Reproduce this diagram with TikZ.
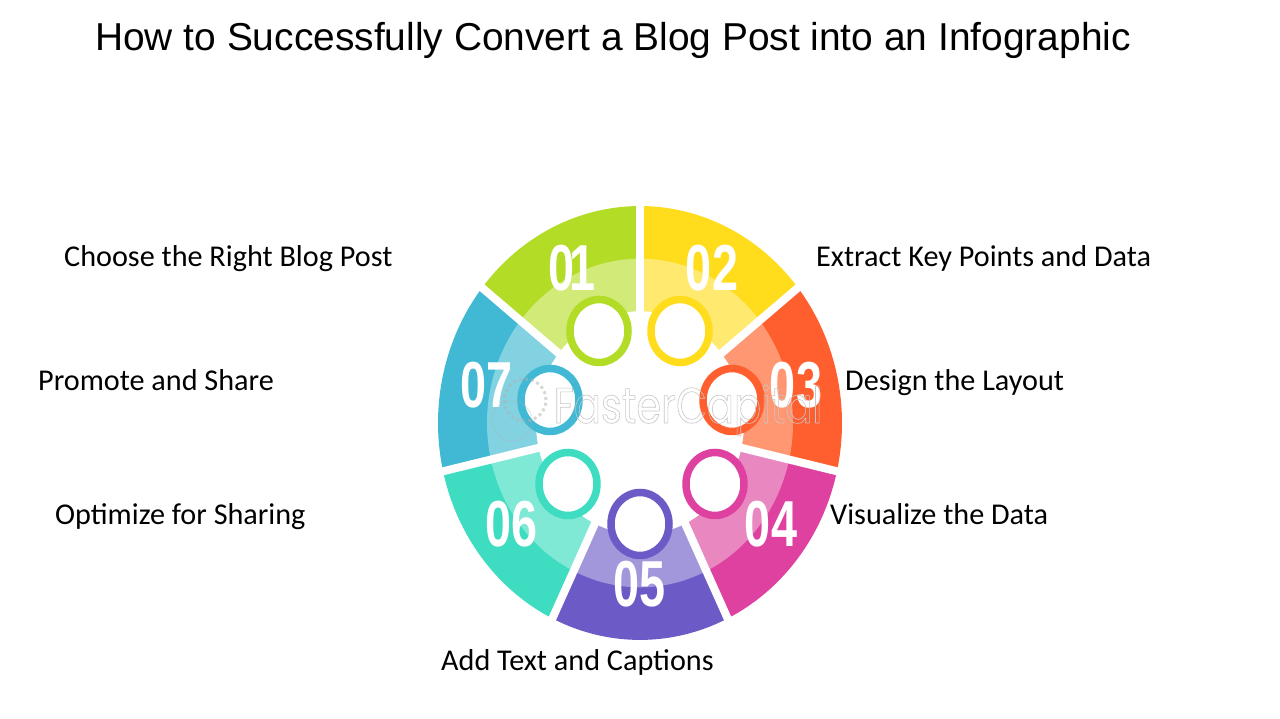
\documentclass[tikz,border=0pt]{standalone}
\usepackage{fontspec}
\setmainfont{Carlito}
\newfontfamily\titlefont{Liberation Sans}
\newfontfamily\numfont{Liberation Sans}[FakeStretch=0.72]
\newfontfamily\wmfont{Poppins}[FakeStretch=0.8]
\usetikzlibrary{shapes.geometric}
\definecolor{greendk}{HTML}{B3DC26}\definecolor{greenlt}{HTML}{D2EA78}
\definecolor{yellowdk}{HTML}{FFDD1D}\definecolor{yellowlt}{HTML}{FFE96E}
\definecolor{orangedk}{HTML}{FF5F2E}\definecolor{orangelt}{HTML}{FF9772}
\definecolor{pinkdk}{HTML}{DF41A0}\definecolor{pinklt}{HTML}{E887C0}
\definecolor{purpledk}{HTML}{6C5AC6}\definecolor{purplelt}{HTML}{A397DC}
\definecolor{tealdk}{HTML}{3EDCC0}\definecolor{teallt}{HTML}{80E9D6}
\definecolor{bluedk}{HTML}{41B8D4}\definecolor{bluelt}{HTML}{82D2E2}
\begin{document}
\begin{tikzpicture}[
  x=1pt, y=1pt,
  hdr/.style={font=\titlefont\fontsize{38.9}{38.9}\selectfont,text=black,anchor=base west,inner sep=0pt},
  lbl/.style={font=\fontsize{30.2}{30.2}\selectfont,text=black,anchor=base west,inner sep=0pt},
  num/.style={font=\numfont\bfseries\fontsize{65}{65}\selectfont,text=white,inner sep=0pt},
  ring/.style={ellipse,fill=white,line width=7.5pt,minimum width=58pt,minimum height=63pt,inner sep=0pt},
  wmark/.style={font=\wmfont\fontsize{50}{50}\selectfont,anchor=base,inner sep=0pt}]

\useasboundingbox (0,0) rectangle (1280,719);

\node[hdr] (title) at (95,668) {How to Successfully Convert a Blog Post into an Infographic};

% wheel
\begin{scope}[shift={(640,296)},yscale=1.074]
  \foreach \ang/\dk/\lt in {90/greendk/greenlt, 38.57/yellowdk/yellowlt, -12.86/orangedk/orangelt,
      -64.29/pinkdk/pinklt, -115.71/purpledk/purplelt, -167.14/tealdk/teallt, -218.57/bluedk/bluelt}{
    \fill[\dk] (0,0) -- (\ang:202) arc[start angle=\ang, delta angle=51.43, radius=202] -- cycle;
    \fill[\lt] (0,0) -- (\ang:153) arc[start angle=\ang, delta angle=51.43, radius=153] -- cycle;
  }
  \foreach \ang in {90,38.57,-12.86,-64.29,-115.71,-167.14,-218.57}
    \draw[white,line width=8pt] (0,0) -- (\ang:210);
  \fill[white] (0,0) circle (104);
\end{scope}

\node[ring,draw=greendk] (r1) at (599,388) {};
\node[ring,draw=yellowdk] (r2) at (680,388) {};
\node[ring,draw=orangedk] (r3) at (732,319) {};
\node[ring,draw=pinkdk] (r4) at (715,235) {};
\node[ring,draw=purpledk] (r5) at (640,195) {};
\node[ring,draw=tealdk] (r6) at (568,235) {};
\node[ring,draw=bluedk] (r7) at (550,319) {};

\node[num] (n1) at (572,451) {0\kern-6pt 1};
\node[num] (n2) at (712,451) {02};
\node[num] (n3) at (796,334) {03};
\node[num] (n4) at (771,195) {04};
\node[num] (n5) at (640,135) {05};
\node[num] (n6) at (512,195) {06};
\node[num] (n7) at (487,334) {07};

% faint mark across the middle
\draw[black!30,opacity=.5,line width=3pt,dash pattern=on 3pt off 3pt] (525,319) circle (21);
\draw[black!30,opacity=.35,line width=1.5pt,densely dotted] (512,298) circle (20);
\node[wmark] (wm) at (688,296) {\special{pdf:code 1 Tr 0.6 w 0.78 G}FasterCapital\special{pdf:code 0 Tr}};

\node[lbl] (l1) at (64,452) {Choose the Right Blog Post};
\node[lbl] (l2) at (816,452) {Extract Key Points and Data};
\node[lbl] (l3) at (845,328) {Design the Layout};
\node[lbl] (l4) at (830,194) {Visualize the Data};
\node[lbl] (l5) at (441,48) {Add Text and Captions};
\node[lbl] (l6) at (55,194) {Optimize for Sharing};
\node[lbl] (l7) at (38,328) {Promote and Share};
\end{tikzpicture}
\end{document}
